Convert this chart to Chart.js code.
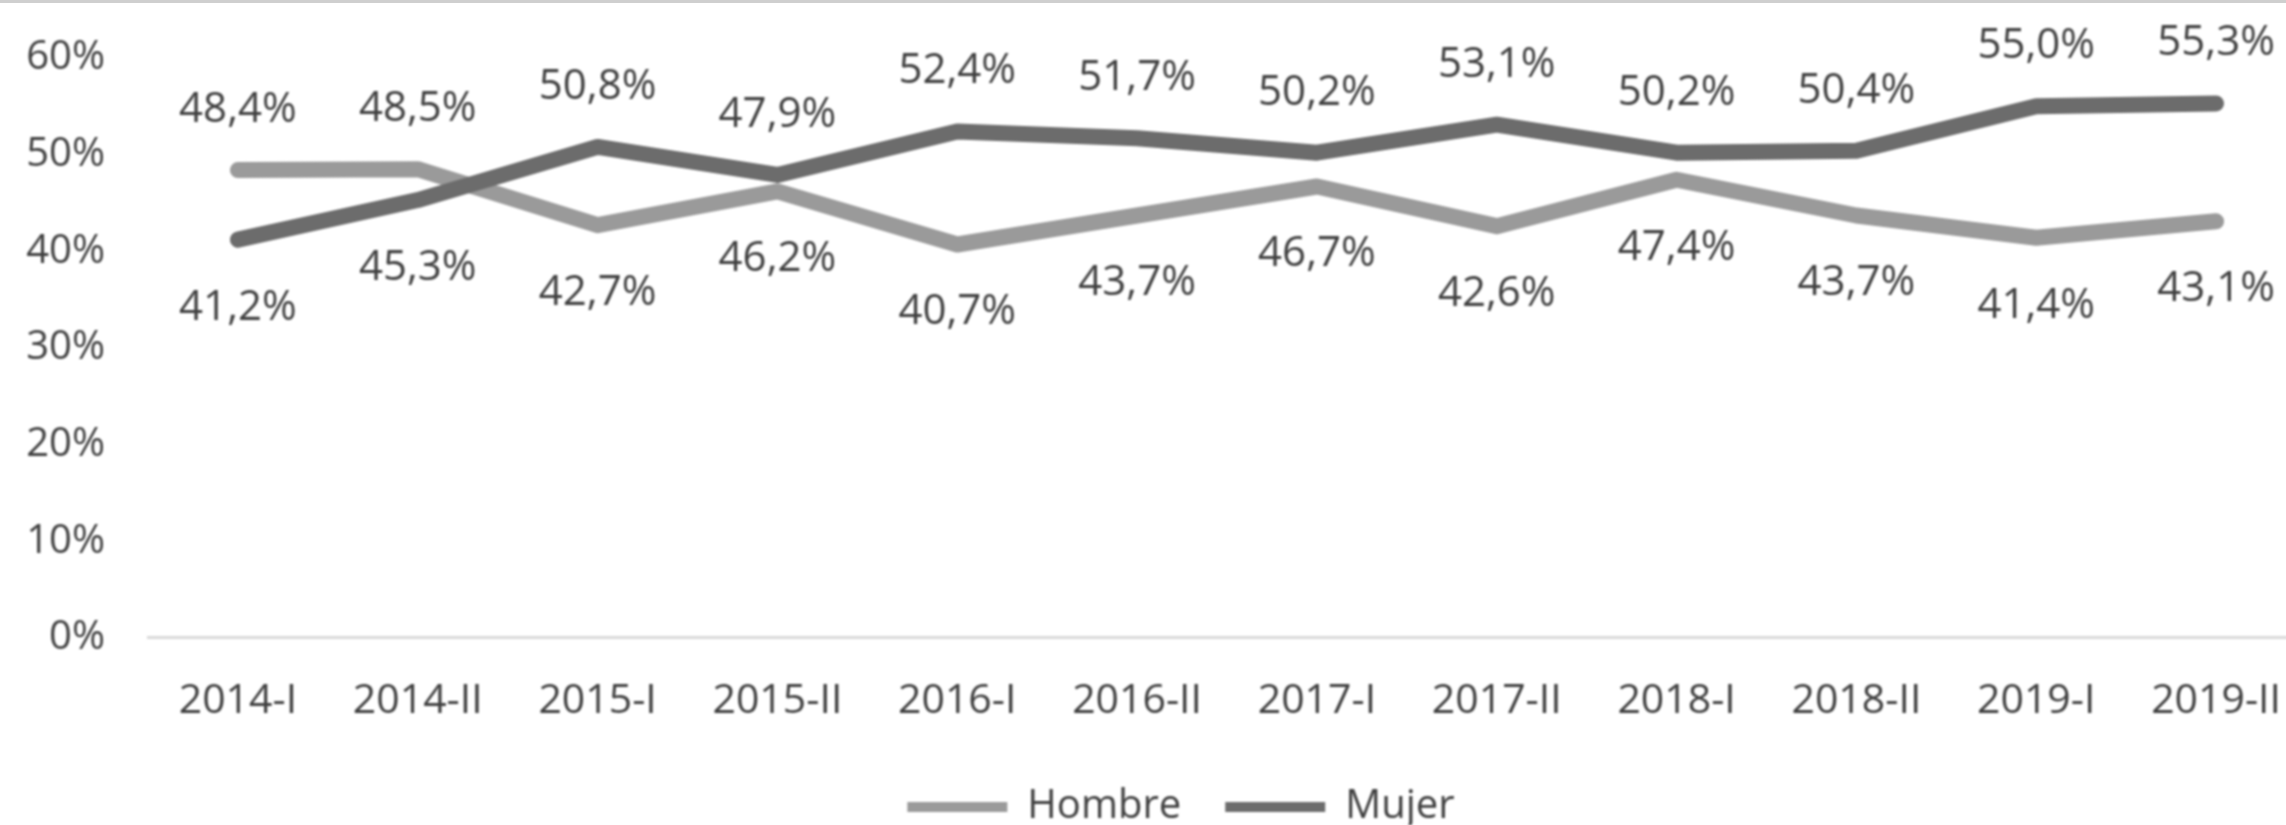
<!DOCTYPE html>
<html lang="es">
<head>
    <meta charset="utf-8">
    <title>Hombre / Mujer</title>
    <script src="https://cdn.jsdelivr.net/npm/chart.js@4/dist/chart.umd.min.js"></script>
    <style>
        html, body { margin: 0; padding: 0; background: #fff; overflow: hidden; }
        #topline { position: absolute; left: 0; top: 0; width: 2286px; height: 3px; background: #cfcfcf; }
        #grafico { display: block; filter: blur(0.8px); }
    </style>
</head>
<body>
<div id="topline"></div>
<canvas id="grafico" width="2362" height="825"></canvas>

<script type="text/javascript">

    const periodos = ["2014-I", "2014-II", "2015-I", "2015-II", "2016-I", "2016-II",
        "2017-I", "2017-II", "2018-I", "2018-II", "2019-I", "2019-II"];
    const hombre = [48.4, 48.5, 42.7, 46.2, 40.7, 43.7, 46.7, 42.6, 47.4, 43.7, 41.4, 43.1];
    const mujer = [41.2, 45.3, 50.8, 47.9, 52.4, 51.7, 50.2, 53.1, 50.2, 50.4, 55.0, 55.3];
    const yTicks = [0, 10, 20, 30, 40, 50, 60];

    const fuente = "'Open Sans', 'Liberation Sans', sans-serif";
    const gris = "#404040";

    // etiquetas de valor: la serie mas alta arriba, la otra abajo
    const etiquetas = {
        id: "etiquetas",
        afterLayout(chart) {
            // la leyenda va centrada en todo el lienzo, no en el hueco entre paddings
            chart.legend.left += 15;
            chart.legend.right += 15;
        },
        afterDatasetsDraw(chart) {
            const ctx = chart.ctx;
            const metaH = chart.getDatasetMeta(0);
            const metaM = chart.getDatasetMeta(1);
            ctx.save();
            ctx.font = "42px " + fuente;
            ctx.fillStyle = gris;
            ctx.textAlign = "center";
            ctx.textBaseline = "middle";
            for (let i = 0; i < periodos.length; i++) {
                const pares = [[metaH.data[i], hombre[i]], [metaM.data[i], mujer[i]]];
                pares.forEach(([pt, v], k) => {
                    const otro = k === 0 ? mujer[i] : hombre[i];
                    const dy = v >= otro ? -60 : 68;
                    const txt = v.toFixed(1).replace(".", ",") + "%";
                    ctx.fillText(txt, pt.x, pt.y + dy);
                });
            }
            ctx.restore();
        }
    };

    new Chart("grafico", {
        type: "line",
        data: {
            labels: periodos,
            datasets: [
                {
                    label: "Hombre",
                    data: hombre,
                    borderColor: "#9a9a9a",
                    backgroundColor: "#9a9a9a",
                    borderWidth: 16,
                    pointRadius: 0,
                    tension: 0,
                    borderCapStyle: "round",
                    borderJoinStyle: "round",
                    order: 1
                },
                {
                    label: "Mujer",
                    data: mujer,
                    borderColor: "#6c6c6c",
                    backgroundColor: "#6c6c6c",
                    borderWidth: 16,
                    pointRadius: 0,
                    tension: 0,
                    borderCapStyle: "round",
                    borderJoinStyle: "round",
                    order: 0
                }
            ]
        },
        options: {
            responsive: false,
            animation: false,
            layout: {padding: {left: 26, right: 56, top: 58, bottom: -12}},
            plugins: {
                tooltip: {enabled: false},
                legend: {
                    display: true,
                    position: "bottom",
                    labels: {
                        boxWidth: 100,
                        boxHeight: 10,
                        padding: 44,
                        color: gris,
                        font: {family: fuente, size: 40},
                        sort: (a, b) => a.datasetIndex - b.datasetIndex,
                        generateLabels(chart) {
                            return Chart.defaults.plugins.legend.labels.generateLabels(chart)
                                .map(l => Object.assign(l, {lineWidth: 0}));
                        }
                    }
                }
            },
            scales: {
                x: {
                    offset: true,
                    grid: {display: false},
                    border: {display: true, color: "#d9d9d9", width: 3},
                    ticks: {color: gris, font: {family: fuente, size: 41}, padding: 31, maxRotation: 0},
                    afterFit: axis => { axis.height -= 14; }
                },
                y: {
                    min: 0,
                    max: 60,
                    grid: {display: false, drawTicks: true, tickLength: 35},
                    border: {display: false},
                    afterBuildTicks: axis => { axis.ticks = yTicks.map(v => ({value: v})); },
                    afterFit: axis => { axis.width = 122; },
                    ticks: {
                        color: gris,
                        font: {family: fuente, size: 40},
                        padding: 8,
                        callback: v => v + "%"
                    }
                }
            }
        },
        plugins: [etiquetas]
    });

</script>
</body>
</html>
